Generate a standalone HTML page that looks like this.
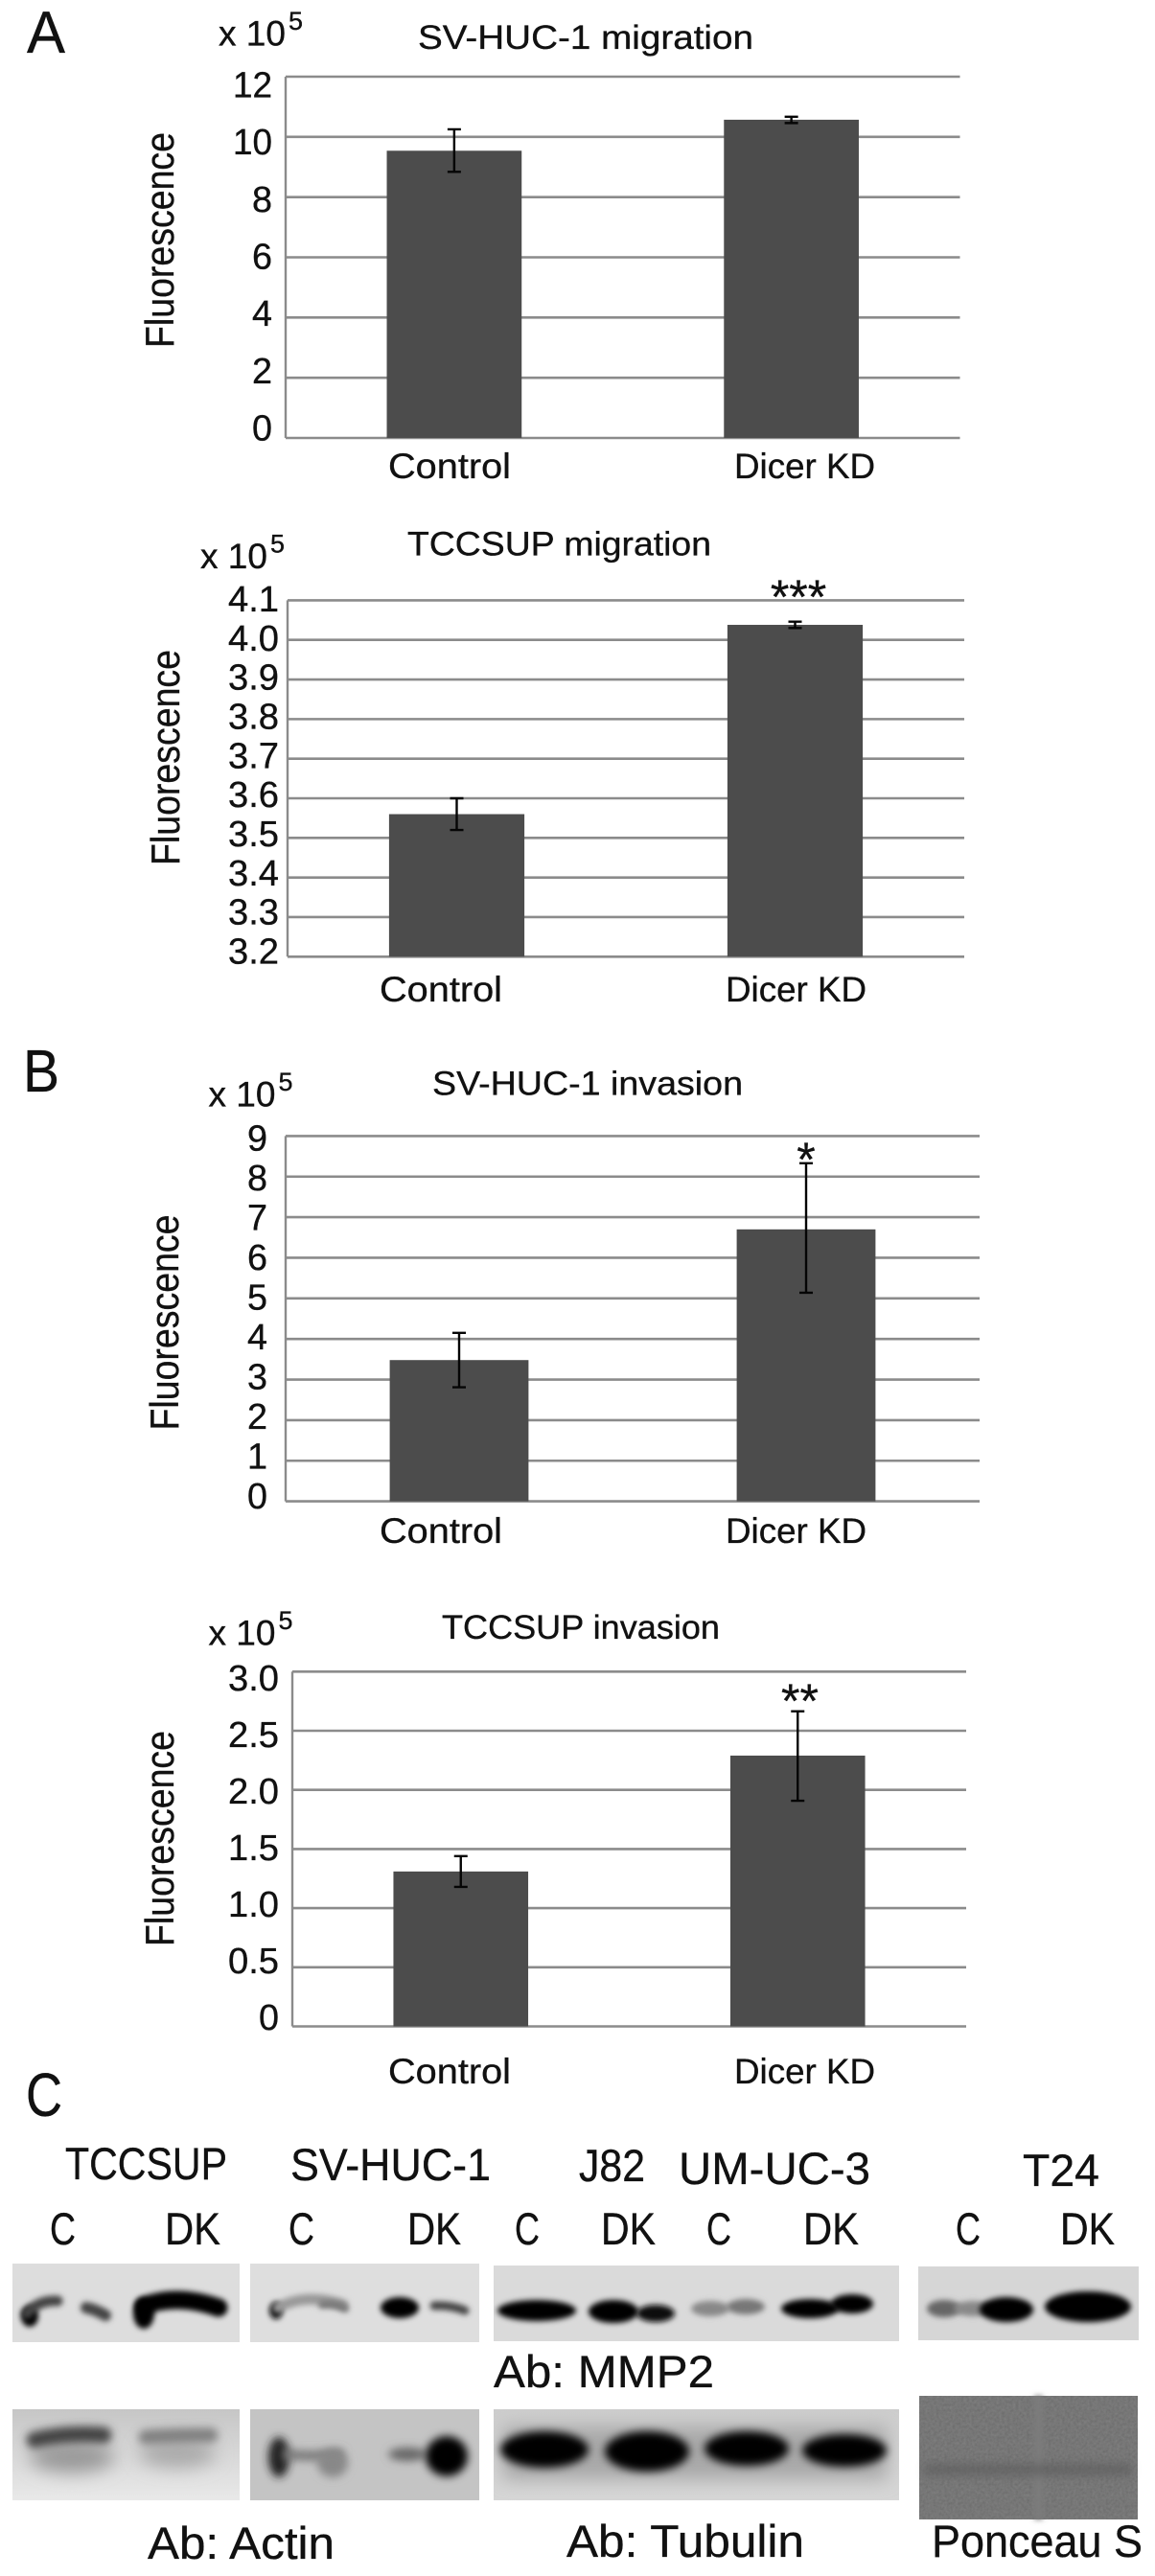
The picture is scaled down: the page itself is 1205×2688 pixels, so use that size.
<!DOCTYPE html>
<html lang="en">
<head>
<meta charset="utf-8">
<title>Dicer knockdown migration and invasion figure</title>
<style>
html,body{margin:0;padding:0;background:#fff;width:1205px;height:2688px;overflow:hidden}
svg{display:block}
text{font-family:"Liberation Sans",sans-serif;fill:#111;stroke:#111;stroke-width:.35}
</style>
</head>
<body>
<svg id="figure" xmlns="http://www.w3.org/2000/svg" width="1205" height="2688" viewBox="0 0 1205 2688">
  <defs>
    <filter id="b2" filterUnits="userSpaceOnUse" x="0" y="2340" width="1205" height="348"><feGaussianBlur stdDeviation="3"/></filter>
    <filter id="b4" filterUnits="userSpaceOnUse" x="0" y="2340" width="1205" height="348"><feGaussianBlur stdDeviation="4.5"/></filter>
    <filter id="b8" filterUnits="userSpaceOnUse" x="0" y="2340" width="1205" height="348"><feGaussianBlur stdDeviation="9"/></filter>
    <linearGradient id="actin-bg" x1="0" y1="0" x2="0" y2="1"><stop offset="0" stop-color="#c6c6c6"/><stop offset="1" stop-color="#e9e9e9"/></linearGradient>
    <linearGradient id="tubulin-bg" x1="0" y1="0" x2="0" y2="1"><stop offset="0" stop-color="#cdcdcd"/><stop offset="1" stop-color="#d6d6d6"/></linearGradient>
    <filter id="grain" x="0" y="0" width="100%" height="100%"><feTurbulence type="fractalNoise" baseFrequency="0.35" numOctaves="2" seed="4"/><feColorMatrix type="matrix" values="0 0 0 0 0.3  0 0 0 0 0.3  0 0 0 0 0.3  0.5 0 0 0 0"/><feComposite in2="SourceGraphic" operator="in"/><feMerge><feMergeNode in="SourceGraphic"/><feMergeNode/></feMerge></filter>
    <clipPath id="clip-p1"><rect x="13" y="2362" width="237" height="82"/></clipPath>
    <clipPath id="clip-p2"><rect x="261" y="2362" width="239" height="82"/></clipPath>
    <clipPath id="clip-p3"><rect x="515" y="2364" width="423" height="79"/></clipPath>
    <clipPath id="clip-p4"><rect x="958" y="2365" width="230" height="77"/></clipPath>
    <clipPath id="clip-p5"><rect x="13" y="2514" width="237" height="95"/></clipPath>
    <clipPath id="clip-p6"><rect x="261" y="2514" width="239" height="95"/></clipPath>
    <clipPath id="clip-p7"><rect x="515" y="2514" width="423" height="95"/></clipPath>
  </defs>

  <!-- Panel letters -->
  <text x="28" y="55" font-size="62" textLength="40" lengthAdjust="spacingAndGlyphs">A</text>
  <text x="24" y="1139" font-size="62" textLength="38" lengthAdjust="spacingAndGlyphs">B</text>
  <text x="27" y="2208" font-size="64" textLength="38" lengthAdjust="spacingAndGlyphs">C</text>

  <g id="charts"></g>

  <!-- Panel C headers -->
  <g font-size="47">
    <text x="68" y="2274" textLength="169" lengthAdjust="spacingAndGlyphs">TCCSUP</text>
    <text x="303" y="2275" textLength="209" lengthAdjust="spacingAndGlyphs">SV-HUC-1</text>
    <text x="604" y="2276" textLength="69" lengthAdjust="spacingAndGlyphs">J82</text>
    <text x="708" y="2279" textLength="200" lengthAdjust="spacingAndGlyphs">UM-UC-3</text>
    <text x="1067" y="2281" textLength="80" lengthAdjust="spacingAndGlyphs">T24</text>
  </g>
  <g font-size="47">
    <text x="52" y="2342" textLength="27" lengthAdjust="spacingAndGlyphs">C</text>
    <text x="172" y="2342" textLength="58" lengthAdjust="spacingAndGlyphs">DK</text>
    <text x="301" y="2342" textLength="27" lengthAdjust="spacingAndGlyphs">C</text>
    <text x="425" y="2342" textLength="56" lengthAdjust="spacingAndGlyphs">DK</text>
    <text x="537" y="2342" textLength="26" lengthAdjust="spacingAndGlyphs">C</text>
    <text x="627" y="2342" textLength="57" lengthAdjust="spacingAndGlyphs">DK</text>
    <text x="737" y="2342" textLength="26" lengthAdjust="spacingAndGlyphs">C</text>
    <text x="838" y="2342" textLength="58" lengthAdjust="spacingAndGlyphs">DK</text>
    <text x="997" y="2342" textLength="26" lengthAdjust="spacingAndGlyphs">C</text>
    <text x="1106" y="2342" textLength="57" lengthAdjust="spacingAndGlyphs">DK</text>
  </g>

  <!-- MMP2 row -->
  <g clip-path="url(#clip-p1)">
    <rect x="13" y="2362" width="237" height="82" fill="#dddddd"/>
    <ellipse cx="31" cy="2417" rx="9" ry="11" fill="#000" filter="url(#b2)"/>
    <path d="M28 2414 Q40 2400 60 2401" stroke="#444" stroke-width="11" fill="none" stroke-linecap="round" filter="url(#b2)"/>
    <path d="M90 2408 Q100 2410 110 2416" stroke="#444" stroke-width="12" fill="none" stroke-linecap="round" filter="url(#b2)"/>
    <ellipse cx="150" cy="2414" rx="11" ry="16" fill="#000" filter="url(#b2)"/>
    <path d="M150 2406 Q185 2393 228 2408" stroke="#000" stroke-width="19" fill="none" stroke-linecap="round" filter="url(#b2)"/>
  </g>
  <g clip-path="url(#clip-p2)">
    <rect x="261" y="2362" width="239" height="82" fill="#dedede"/>
    <ellipse cx="288" cy="2411" rx="7" ry="9" fill="#111" filter="url(#b2)"/>
    <path d="M290 2408 Q320 2392 358 2405" stroke="#999" stroke-width="11" fill="none" stroke-linecap="round" filter="url(#b2)"/>
    <path d="M336 2405 Q350 2403 360 2409" stroke="#777" stroke-width="8" fill="none" stroke-linecap="round" filter="url(#b2)"/>
    <ellipse cx="417" cy="2408" rx="20" ry="11" fill="#000" filter="url(#b2)"/>
    <path d="M453 2406 Q470 2405 485 2411" stroke="#444" stroke-width="9" fill="none" stroke-linecap="round" filter="url(#b2)"/>
  </g>
  <g clip-path="url(#clip-p3)">
    <rect x="515" y="2364" width="423" height="79" fill="#dadada"/>
    <ellipse cx="560" cy="2411" rx="41" ry="11" fill="#000" filter="url(#b2)"/>
    <ellipse cx="640" cy="2412" rx="26" ry="12" fill="#000" filter="url(#b2)"/>
    <ellipse cx="684" cy="2414" rx="20" ry="9" fill="#111" filter="url(#b2)"/>
    <ellipse cx="741" cy="2409" rx="20" ry="8" fill="#888" filter="url(#b2)"/>
    <ellipse cx="778" cy="2407" rx="20" ry="8" fill="#777" filter="url(#b2)"/>
    <ellipse cx="845" cy="2409" rx="30" ry="10" fill="#000" filter="url(#b2)"/>
    <ellipse cx="889" cy="2404" rx="22" ry="10" fill="#000" filter="url(#b2)"/>
  </g>
  <g clip-path="url(#clip-p4)">
    <rect x="958" y="2365" width="230" height="77" fill="#d6d6d6"/>
    <ellipse cx="985" cy="2409" rx="18" ry="9" fill="#666" filter="url(#b2)"/>
    <ellipse cx="1015" cy="2409" rx="20" ry="8" fill="#888" filter="url(#b2)"/>
    <ellipse cx="1050" cy="2410" rx="28" ry="13" fill="#000" filter="url(#b2)"/>
    <ellipse cx="1135" cy="2407" rx="45" ry="16" fill="#000" filter="url(#b2)"/>
  </g>
  <text x="515" y="2491" font-size="47" textLength="230" lengthAdjust="spacingAndGlyphs">Ab: MMP2</text>

  <!-- Loading control row -->
  <g clip-path="url(#clip-p5)">
    <rect x="13" y="2514" width="237" height="95" fill="url(#actin-bg)"/>
    <ellipse cx="75" cy="2564" rx="44" ry="16" fill="#999" filter="url(#b8)"/>
    <path d="M36 2546 Q70 2538 108 2541" stroke="#444" stroke-width="17" fill="none" stroke-linecap="round" filter="url(#b4)"/>
    <ellipse cx="185" cy="2560" rx="40" ry="15" fill="#aaa" filter="url(#b8)"/>
    <path d="M152 2543 Q185 2541 220 2541" stroke="#808080" stroke-width="15" fill="none" stroke-linecap="round" filter="url(#b4)"/>
  </g>
  <g clip-path="url(#clip-p6)">
    <rect x="261" y="2514" width="239" height="95" fill="#c4c4c4"/>
    <ellipse cx="291" cy="2564" rx="11" ry="21" fill="#222" filter="url(#b4)"/>
    <path d="M295 2561 Q325 2564 358 2561" stroke="#777" stroke-width="10" fill="none" filter="url(#b4)"/>
    <ellipse cx="347" cy="2570" rx="16" ry="15" fill="#888" filter="url(#b4)"/>
    <ellipse cx="425" cy="2561" rx="20" ry="7" fill="#666" filter="url(#b4)"/>
    <ellipse cx="466" cy="2563" rx="22" ry="21" fill="#000" filter="url(#b4)"/>
  </g>
  <g clip-path="url(#clip-p7)">
    <rect x="515" y="2514" width="423" height="95" fill="url(#tubulin-bg)"/>
    <rect x="525" y="2532" width="400" height="55" fill="#a8a8a8" filter="url(#b8)"/>
    <ellipse cx="568" cy="2556" rx="46" ry="19" fill="#000" filter="url(#b4)"/>
    <ellipse cx="675" cy="2558" rx="44" ry="21" fill="#000" filter="url(#b4)"/>
    <ellipse cx="779" cy="2555" rx="44" ry="18" fill="#000" filter="url(#b4)"/>
    <ellipse cx="881" cy="2557" rx="44" ry="17" fill="#000" filter="url(#b4)"/>
  </g>
  <g>
    <rect x="959" y="2500" width="228" height="129" fill="#6a6a6a" filter="url(#grain)"/>
    <rect x="1079" y="2500" width="9" height="129" fill="#7c7c7c" filter="url(#b2)"/>
    <rect x="965" y="2571" width="216" height="12" fill="#5a5a5a" opacity=".6" filter="url(#b4)"/>
  </g>
  <text x="154" y="2670" font-size="47" textLength="195" lengthAdjust="spacingAndGlyphs">Ab: Actin</text>
  <text x="591" y="2668" font-size="47" textLength="248" lengthAdjust="spacingAndGlyphs">Ab: Tubulin</text>
  <text x="972" y="2668" font-size="47" textLength="220" lengthAdjust="spacingAndGlyphs">Ponceau S</text>
</svg>

<script>
const categories = ['Control', 'Dicer KD'];

const svMigrationTicks = [0, 2, 4, 6, 8, 10, 12];
const svMigrationTickLabels = ['0', '2', '4', '6', '8', '10', '12'];
const svMigrationMeans = [9.54, 10.57];
const svMigrationErrHigh = [10.25, 10.67];
const svMigrationErrLow = [8.84, 10.46];

const tccMigrationTicks = [3.2, 3.3, 3.4, 3.5, 3.6, 3.7, 3.8, 3.9, 4.0, 4.1];
const tccMigrationTickLabels = ['3.2', '3.3', '3.4', '3.5', '3.6', '3.7', '3.8', '3.9', '4.0', '4.1'];
const tccMigrationMeans = [3.56, 4.038];
const tccMigrationErrHigh = [3.60, 4.046];
const tccMigrationErrLow = [3.52, 4.03];

const svInvasionTicks = [0, 1, 2, 3, 4, 5, 6, 7, 8, 9];
const svInvasionTickLabels = ['0', '1', '2', '3', '4', '5', '6', '7', '8', '9'];
const svInvasionMeans = [3.48, 6.70];
const svInvasionErrHigh = [4.15, 8.33];
const svInvasionErrLow = [2.81, 5.14];

const tccInvasionTicks = [0, 0.5, 1.0, 1.5, 2.0, 2.5, 3.0];
const tccInvasionTickLabels = ['0', '0.5', '1.0', '1.5', '2.0', '2.5', '3.0'];
const tccInvasionMeans = [1.31, 2.29];
const tccInvasionErrHigh = [1.44, 2.665];
const tccInvasionErrLow = [1.18, 1.908];

const NS = 'http://www.w3.org/2000/svg';

function make(parent, tag, props, content) {
  const el = document.createElementNS(NS, tag);
  Object.keys(props).forEach(function (k) { el.setAttribute(k, props[k]); });
  if (content !== undefined) el.textContent = content;
  parent.appendChild(el);
  return el;
}

function tickTextWidth(label) {
  return label.length === 1 ? 21 : (label.length === 2 ? 41 : 53);
}

function drawChart(parentEl, c) {
  const min = c.ticks[0];
  const max = c.ticks[c.ticks.length - 1];
  const yScale = function (v) { return c.bottom - (v - min) / (max - min) * (c.bottom - c.top); };
  const labelScale = function (v) { return c.labelBottom - (v - min) / (max - min) * (c.labelBottom - c.labelTop); };
  const band = (c.right - c.left) / categories.length;
  const xScale = function (i) { return c.left + (i + 0.5) * band; };
  const barW = band * 0.4;

  const g = make(parentEl, 'g', {});
  
  

  c.ticks.forEach(function (t, i) {
    const line = make(g, 'line', { x1: c.left, x2: c.right, y1: yScale(t), y2: yScale(t), stroke: '#8b8b8b', 'stroke-width': 2.6 });
    
    
    const lab = make(g, 'text', {
      x: c.labelRight, y: labelScale(t), 'font-size': 38, 'text-anchor': 'end',
      textLength: tickTextWidth(c.tickLabels[i]), lengthAdjust: 'spacingAndGlyphs'
    }, c.tickLabels[i]);
    
    
  });

  const axis = make(g, 'line', { x1: c.left, x2: c.left, y1: c.top, y2: c.bottom, stroke: '#8b8b8b', 'stroke-width': 2.4 });
  
  

  categories.forEach(function (cat, i) {
    const cx = xScale(i);
    const bar = make(g, 'rect', { x: cx - barW / 2, y: yScale(c.means[i]), width: barW, height: c.bottom - yScale(c.means[i]), fill: '#4c4c4c' });
    
    

    const yHi = yScale(c.errHigh[i]);
    const yLo = yScale(c.errLow[i]);
    const err = make(g, 'path', {
      d: 'M' + (cx - 7) + ' ' + yHi + 'H' + (cx + 7) + 'M' + cx + ' ' + yHi + 'V' + yLo + 'M' + (cx - 7) + ' ' + yLo + 'H' + (cx + 7),
      stroke: '#050505', 'stroke-width': 2.4, fill: 'none'
    });
    
    

    const catLab = make(g, 'text', {
      x: c.catCenters[i], y: c.catBaseline, 'font-size': 37, 'text-anchor': 'middle',
      textLength: i === 0 ? 128 : 147, lengthAdjust: 'spacingAndGlyphs'
    }, cat);
    
    
  });

  const yTitle = make(g, 'text', {
    x: 0, y: 0, 'font-size': 42, textLength: 225, lengthAdjust: 'spacingAndGlyphs',
    transform: 'translate(' + c.yTitleX + ' ' + c.yTitleBottom + ') rotate(-90)'
  }, 'Fluorescence');
  
  

  const title = make(g, 'text', {
    x: c.titleX, y: c.titleY, 'font-size': 35, textLength: c.titleW, lengthAdjust: 'spacingAndGlyphs'
  }, c.title);
  
  

  const mult = make(g, 'text', {
    x: c.multX, y: c.multY, 'font-size': 37, textLength: 70, lengthAdjust: 'spacingAndGlyphs'
  }, 'x 10');
  
  
  const sup = make(g, 'text', {
    x: c.multX + 73, y: c.multY - 16.5, 'font-size': 27, textLength: 15, lengthAdjust: 'spacingAndGlyphs'
  }, '5');
  
  

  if (c.stars) {
    const star = make(g, 'text', { x: c.starX, y: c.starY, 'font-size': 50, 'text-anchor': 'middle' }, c.stars);
    
    
  }
}

const root = document.getElementById('charts');

drawChart(root, {
  name: 'chart-sv-huc-1-migration', title: 'SV-HUC-1 migration',
  ticks: svMigrationTicks, tickLabels: svMigrationTickLabels,
  means: svMigrationMeans, errHigh: svMigrationErrHigh, errLow: svMigrationErrLow,
  left: 298, right: 1001.5, top: 80, bottom: 457,
  labelTop: 101.5, labelBottom: 459.5, labelRight: 284,
  catCenters: [469, 839.5], catBaseline: 499,
  yTitleX: 181, yTitleBottom: 363,
  titleX: 436, titleY: 51, titleW: 350,
  multX: 228, multY: 47.5
});

drawChart(root, {
  name: 'chart-tccsup-migration', title: 'TCCSUP migration',
  ticks: tccMigrationTicks, tickLabels: tccMigrationTickLabels,
  means: tccMigrationMeans, errHigh: tccMigrationErrHigh, errLow: tccMigrationErrLow,
  left: 300, right: 1006, top: 626.4, bottom: 998.3,
  labelTop: 638, labelBottom: 1005.5, labelRight: 291,
  catCenters: [460, 830.5], catBaseline: 1045,
  yTitleX: 187, yTitleBottom: 903,
  titleX: 425, titleY: 579.5, titleW: 317,
  multX: 209, multY: 593,
  stars: '***', starX: 833, starY: 640
});

drawChart(root, {
  name: 'chart-sv-huc-1-invasion', title: 'SV-HUC-1 invasion',
  ticks: svInvasionTicks, tickLabels: svInvasionTickLabels,
  means: svInvasionMeans, errHigh: svInvasionErrHigh, errLow: svInvasionErrLow,
  left: 298, right: 1022, top: 1185.4, bottom: 1566.6,
  labelTop: 1200.5, labelBottom: 1574, labelRight: 279,
  catCenters: [460, 830.5], catBaseline: 1610,
  yTitleX: 186, yTitleBottom: 1492.5,
  titleX: 451, titleY: 1142.7, titleW: 324,
  multX: 217.5, multY: 1154.7,
  stars: '*', starX: 841, starY: 1227
});

drawChart(root, {
  name: 'chart-tccsup-invasion', title: 'TCCSUP invasion',
  ticks: tccInvasionTicks, tickLabels: tccInvasionTickLabels,
  means: tccInvasionMeans, errHigh: tccInvasionErrHigh, errLow: tccInvasionErrLow,
  left: 305, right: 1008, top: 1744.3, bottom: 2114.5,
  labelTop: 1764, labelBottom: 2118, labelRight: 291,
  catCenters: [469, 839.5], catBaseline: 2174,
  yTitleX: 181, yTitleBottom: 2031,
  titleX: 461, titleY: 1710, titleW: 290,
  multX: 217.5, multY: 1716.4,
  stars: '**', starX: 834.5, starY: 1792
});
</script>
</body>
</html>
